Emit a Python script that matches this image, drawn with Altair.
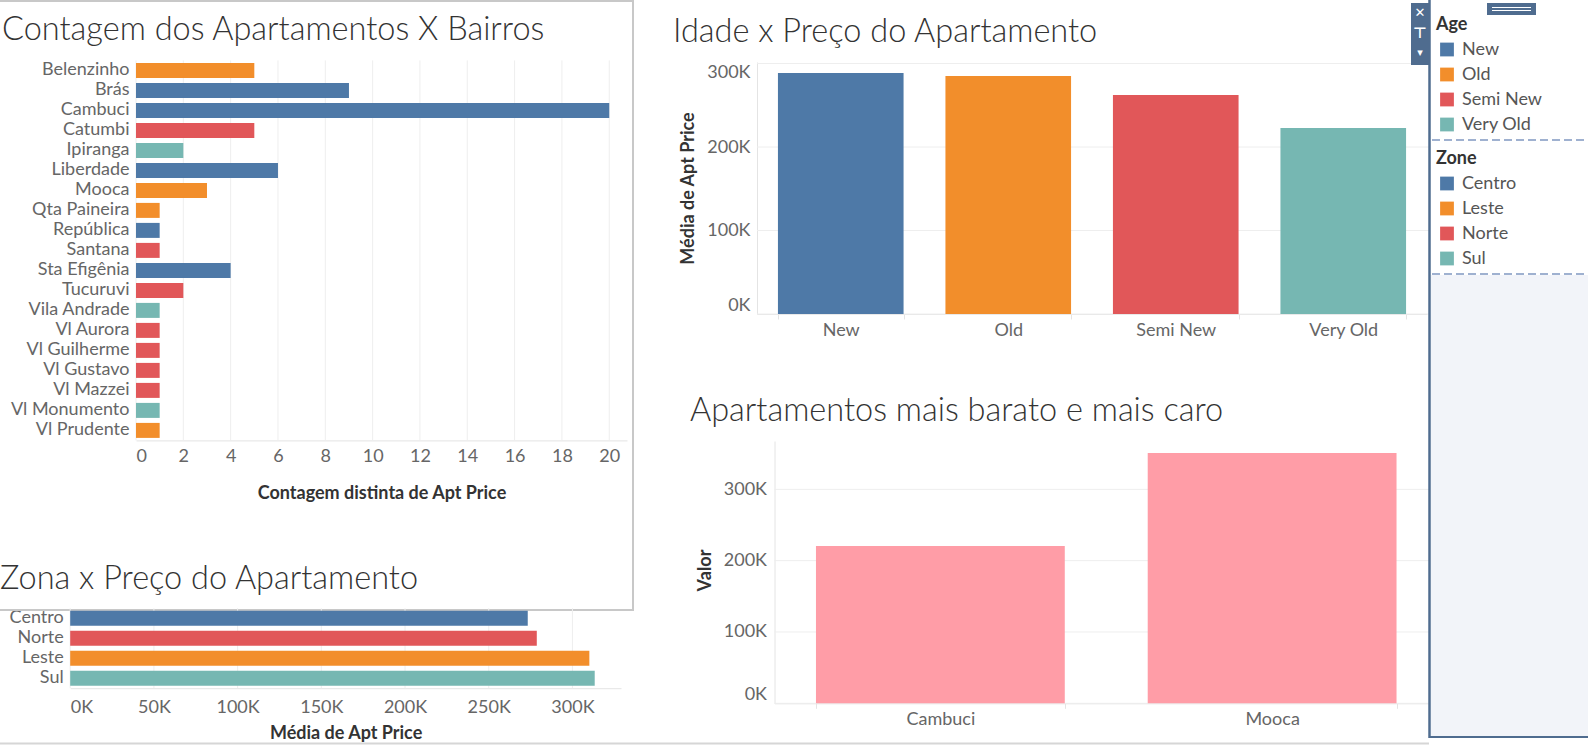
import altair as alt
import pandas as pd

# ---------------- data ----------------
bairros = ["Belenzinho", "Brás", "Cambuci", "Catumbi", "Ipiranga", "Liberdade", "Mooca",
           "Qta Paineira", "República", "Santana", "Sta Efigênia", "Tucuruvi", "Vila Andrade",
           "Vl Aurora", "Vl Guilherme", "Vl Gustavo", "Vl Mazzei", "Vl Monumento", "Vl Prudente"]
contagem = [5, 9, 20, 5, 2, 6, 3, 1, 1, 1, 4, 2, 1, 1, 1, 1, 1, 1, 1]
zona_bairro = ["Leste", "Centro", "Centro", "Norte", "Sul", "Centro", "Leste", "Leste", "Centro",
               "Norte", "Centro", "Norte", "Sul", "Norte", "Norte", "Norte", "Norte", "Sul", "Leste"]

idades = ["New", "Old", "Semi New", "Very Old"]
preco_idade = [288600, 285000, 262300, 222800]

zonas = ["Centro", "Norte", "Leste", "Sul"]
preco_zona = [273300, 278700, 310100, 313300]

extremos = ["Cambuci", "Mooca"]
valor_extremo = [220600, 351000]

zone_legend_order = ["Centro", "Leste", "Norte", "Sul"]
palette = ["#4e79a7", "#f28e2b", "#e15759", "#76b7b2"]
pink = "#ff9da7"

ticks_count = [0, 2, 4, 6, 8, 10, 12, 14, 16, 18, 20]
ticks_zone = [0, 50000, 100000, 150000, 200000, 250000, 300000]
ticks_price = [0, 100000, 200000, 300000]

# ---------------- style ----------------
W, H = 1588, 745
FONT = "Lato"
GRID = "#eeeeee"
DOMAIN = "#e4e4e4"
LABEL = "#666666"
TITLE = "#333333"
KFMT = "format(datum.value / 1000, 'd') + 'K'"
one = pd.DataFrame({"a": [0]})

lab = dict(labelFont=FONT, labelFontSize=18, labelColor=LABEL, grid=False,
           titleFont=FONT, titleFontSize=18, titleFontWeight="bold", titleColor=TITLE)


def vrule(x, y, y2, color, width=1, dash=None):
    kw = dict(color=color, strokeWidth=width)
    if dash:
        kw["strokeDash"] = dash
    return alt.Chart(one).mark_rule(**kw).encode(x=alt.value(x), y=alt.value(y), y2=alt.value(y2))


def hrule(x, x2, y, color, width=1, dash=None):
    kw = dict(color=color, strokeWidth=width)
    if dash:
        kw["strokeDash"] = dash
    return alt.Chart(one).mark_rule(**kw).encode(x=alt.value(x), x2=alt.value(x2), y=alt.value(y))


def rect(x, x2, y, y2, **mk):
    return alt.Chart(one).mark_rect(**mk).encode(
        x=alt.value(x), x2=alt.value(x2), y=alt.value(y), y2=alt.value(y2))


def label(s, x, y, **mk):
    return alt.Chart(pd.DataFrame({"t": [s]})).mark_text(**mk).encode(
        x=alt.value(x), y=alt.value(y), text="t:N")


def title(s, x, y):
    return label(s, x, y, align="left", baseline="alphabetic", font=FONT,
                 fontSize=32.5, fontWeight=300, color=TITLE)


def legend(name, y):
    return alt.Legend(orient="none", legendX=1436, legendY=y, title=name,
                      direction="vertical", symbolType="square", symbolSize=190,
                      symbolStrokeWidth=0, symbolOpacity=1, symbolOffset=2,
                      labelOffset=6, rowPadding=7, titlePadding=7, padding=0,
                      labelFont=FONT, labelFontSize=18, labelColor="#555555",
                      titleFont=FONT, titleFontSize=18, titleFontWeight="bold",
                      titleColor=TITLE)


# ---------------- chart 1: Contagem x Bairros ----------------
c1_top, c1_bot, c1_left = 60.4, 440.4, 136
df1 = pd.DataFrame({"Bairro": bairros, "Contagem": contagem, "Zona": zona_bairro})
x1 = alt.Scale(domain=[0, 20.75], range=[c1_left, 627], nice=False, zero=True)
y1 = alt.Scale(domain=bairros, range=[c1_top, c1_bot], paddingInner=0.25, paddingOuter=0.125)
ax1 = alt.Axis(orient="bottom", offset=c1_bot - H, values=ticks_count, format="d",
               domain=True, domainColor=DOMAIN, ticks=False, labelPadding=7,
               labelFlush=5, title="Contagem distinta de Apt Price",
               titleY=53, titleBaseline="middle", **lab)
grid1 = alt.Chart(pd.DataFrame({"v": ticks_count})).mark_rule(color=GRID).encode(
    x=alt.X("v:Q", scale=x1, axis=ax1), y=alt.value(c1_top), y2=alt.value(c1_bot))
bars1 = alt.Chart(df1).mark_bar().encode(
    x=alt.X("Contagem:Q", scale=x1, axis=ax1),
    y=alt.Y("Bairro:N", scale=y1, sort=None,
            axis=alt.Axis(orient="left", offset=-c1_left, domain=False, ticks=False,
                          labelPadding=7, title=None, **lab)),
    color=alt.Color("Zona:N", scale=alt.Scale(domain=zone_legend_order, range=palette), legend=None),
)
c1 = alt.layer(grid1, bars1)

# ---------------- chart 3: Zona x Preço ----------------
c3_top, c3_bot, c3_left = 608.2, 688.2, 70.2
df3 = pd.DataFrame({"Zona": zonas, "Preco": preco_zona})
x3 = alt.Scale(domain=[0, 329000], range=[c3_left, 621], nice=False, zero=True)
y3 = alt.Scale(domain=zonas, range=[c3_top, c3_bot], paddingInner=0.25, paddingOuter=0.125)
ax3 = alt.Axis(orient="bottom", offset=c3_bot - H, values=ticks_zone, labelExpr=KFMT,
               domain=True, domainColor=DOMAIN, ticks=False, labelPadding=10,
               labelFlush=5, title="Média de Apt Price", titleY=45,
               titleBaseline="middle", **lab)
grid3 = alt.Chart(pd.DataFrame({"v": ticks_zone})).mark_rule(color=GRID).encode(
    x=alt.X("v:Q", scale=x3, axis=ax3), y=alt.value(c3_top), y2=alt.value(c3_bot))
bars3 = alt.Chart(df3).mark_bar().encode(
    x=alt.X("Preco:Q", scale=x3, axis=ax3),
    y=alt.Y("Zona:N", scale=y3, sort=None,
            axis=alt.Axis(orient="left", offset=-c3_left, domain=False, ticks=False,
                          labelPadding=7, title=None, **lab)),
    color=alt.Color("Zona:N", scale=alt.Scale(domain=zone_legend_order, range=palette),
                    legend=legend("Zone", 149.5)),
)
c3 = alt.layer(grid3, bars3)

# ---------------- chart 2: Idade x Preço ----------------
c2_top, c2_bot, c2_left = 62, 314, 757
df2 = pd.DataFrame({"Idade": idades, "Preco": preco_idade})
x2 = alt.Scale(domain=idades, range=[c2_left, 1427], paddingInner=0.25, paddingOuter=0.125)
y2 = alt.Scale(domain=[0, 301800], range=[c2_bot, c2_top], nice=False, zero=True)
ay2 = alt.Axis(orient="left", offset=-c2_left, values=ticks_price, labelExpr=KFMT,
               domain=True, domainColor=DOMAIN, ticks=False, labelPadding=7,
               labelFlush=5, title="Média de Apt Price", titleX=-69, titleY=188,
               titleBaseline="middle", titleAngle=270, **lab)
grid2 = alt.Chart(pd.DataFrame({"v": ticks_price})).mark_rule(color=GRID).encode(
    y=alt.Y("v:Q", scale=y2, axis=ay2), x=alt.value(c2_left), x2=alt.value(1429))
bars2 = alt.Chart(df2).mark_bar().encode(
    x=alt.X("Idade:N", scale=x2, sort=None,
            axis=alt.Axis(orient="bottom", offset=c2_bot - H, domain=True, domainColor=DOMAIN,
                          ticks=True, tickBand="extent", tickSize=5, tickColor=DOMAIN,
                          labelPadding=2, labelAngle=0, title=None, **lab)),
    y=alt.Y("Preco:Q", scale=y2, axis=ay2),
    color=alt.Color("Idade:N", scale=alt.Scale(domain=idades, range=palette),
                    legend=legend("Age", 15.5)),
)
c2 = alt.layer(grid2, bars2)

# ---------------- chart 4: mais barato e mais caro ----------------
c4_top, c4_bot, c4_left = 441, 703.3, 774.5
df4 = pd.DataFrame({"Bairro": extremos, "Valor": valor_extremo})
x4 = alt.Scale(domain=extremos, range=[c4_left, 1438], paddingInner=0.25, paddingOuter=0.125)
y4 = alt.Scale(domain=[0, 367800], range=[c4_bot, c4_top], nice=False, zero=True)
ay4 = alt.Axis(orient="left", offset=-c4_left, values=ticks_price, labelExpr=KFMT,
               domain=True, domainColor=DOMAIN, ticks=False, labelPadding=8,
               labelFlush=5, title="Valor", titleX=-69.5, titleY=570,
               titleBaseline="middle", titleAngle=270, **lab)
grid4 = alt.Chart(pd.DataFrame({"v": ticks_price})).mark_rule(color=GRID).encode(
    y=alt.Y("v:Q", scale=y4, axis=ay4), x=alt.value(c4_left), x2=alt.value(1429))
bars4 = alt.Chart(df4).mark_bar(color=pink).encode(
    x=alt.X("Bairro:N", scale=x4, sort=None,
            axis=alt.Axis(orient="bottom", offset=c4_bot - H, domain=True, domainColor=DOMAIN,
                          ticks=True, tickBand="extent", tickSize=5, tickColor=DOMAIN,
                          labelPadding=2, labelAngle=0, title=None, **lab)),
    y=alt.Y("Valor:Q", scale=y4, axis=ay4),
)
c4 = alt.layer(grid4, bars4)

# ---------------- frames, titles and legend panel ----------------
box = rect(-3, 633, 1, 610, fill="white", fillOpacity=0, stroke="#c8c8c8", strokeWidth=2)
bottom_line = hrule(0, 1429, 743.5, "#d6d6d6", 2)

titles = [
    title("Contagem dos Apartamentos X Bairros", 2, 40),
    title("Idade x Preço do Apartamento", 673, 41.5),
    title("Apartamentos mais barato e mais caro", 690, 420.5),
    title("Zona x Preço do Apartamento", 0, 589),
]

PANEL = "#4f6c8f"
panel = [
    rect(1429, W, 0, H, fill="white"),
    rect(1431, W, 275, 736, fill="#f2f4f9"),
    vrule(1429.5, 0, 738, PANEL, 2.5),
    hrule(1429, W, 737, PANEL, 2),
    hrule(1432, W, 140, "#9fb1d0", 2, [8, 4]),
    hrule(1432, W, 274, "#9fb1d0", 2, [8, 4]),
    rect(1411, 1429, 3, 65, fill=PANEL),
    label("✕", 1420, 13, font="DejaVu Sans", fontSize=13, color="white", baseline="middle"),
    label("⊤", 1420, 33, font="DejaVu Sans", fontSize=15, color="white", baseline="middle", fontWeight="bold"),
    label("▾", 1420, 53, font="DejaVu Sans", fontSize=11, color="white", baseline="middle"),
    rect(1487, 1536, 3, 15, fill=PANEL),
    hrule(1492, 1531, 7.5, "white", 1),
    hrule(1492, 1531, 10.5, "white", 1),
]

chart = alt.layer(
    box, c1, c3, c2, c4, bottom_line, *titles, *panel
).resolve_scale(
    x="independent", y="independent", color="independent"
).resolve_axis(
    x="independent", y="independent"
).resolve_legend(
    color="independent"
).properties(
    width=W, height=H, padding=0, autosize=alt.AutoSizeParams(type="none"),
    background="white",
).configure_view(strokeWidth=0)

chart.save("out.html", embed_options={"renderer": "svg", "actions": False})
